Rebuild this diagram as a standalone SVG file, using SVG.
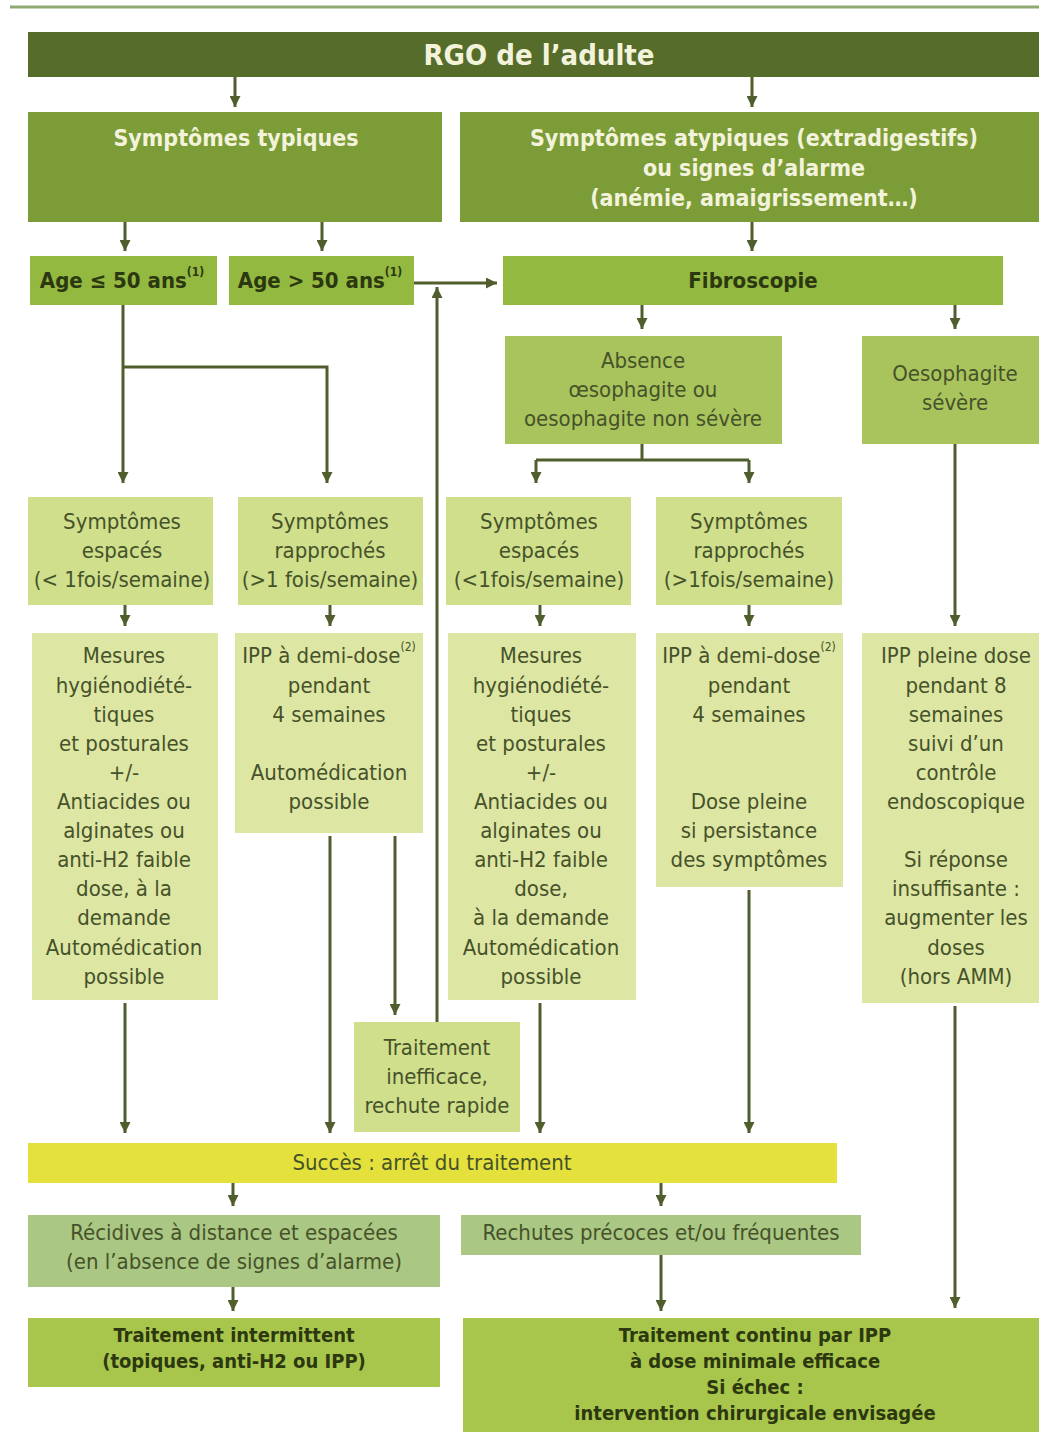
<svg xmlns="http://www.w3.org/2000/svg" width="1039" height="1432" viewBox="0 0 1039 1432">
<defs>
<marker id="ah" viewBox="0 0 10 10" refX="10" refY="5" markerWidth="11" markerHeight="11" markerUnits="userSpaceOnUse" orient="auto">
<path d="M0,0 L10,5 L0,10 Z" fill="#4f5e2c"/>
</marker>
<style>
text{font-family:"DejaVu Sans Condensed","DejaVu Sans","Liberation Sans",sans-serif;font-stretch:condensed;text-anchor:middle;dominant-baseline:central}
.t{font-size:22px;fill:#46522a}
.b{font-size:22px;font-weight:bold;fill:#2c3810}
.w{font-size:23px;font-weight:bold;fill:#f3f3dc}
.bt{font-size:20px;font-weight:bold;fill:#2c3810}
.sup{font-size:12px}
.c path{fill:none;stroke:#4f5e2c;stroke-width:3}
.c .a{marker-end:url(#ah)}
.dark{fill:#566c2a}
.mid{fill:#7c9c38}
.lt{fill:#93b941}
.lt2{fill:#a9c45c}
.p1{fill:#cfdf8c}
.p2{fill:#dde6a3}
.yel{fill:#e4e13d}
.gr{fill:#aac783}
.fin{fill:#a8c64b}
</style>
</defs>
<rect width="1039" height="1432" fill="#ffffff"/>
<line x1="10" y1="7" x2="1039" y2="7" stroke="#8eaa70" stroke-width="3"/>

<g id="title"><rect class="dark" x="28" y="32" width="1011" height="45"/><text class="w" style="font-size:29px" x="539" y="55">RGO de l’adulte</text></g>

<g id="typiques"><rect class="mid" x="28" y="112" width="414" height="110"/><text class="w" x="236" y="138">Symptômes typiques</text></g>
<g id="atypiques"><rect class="mid" x="460" y="112" width="579" height="110"/>
<text class="w" x="754" y="138">Symptômes atypiques (extradigestifs)</text>
<text class="w" x="754" y="168">ou signes d’alarme</text>
<text class="w" x="754" y="198">(anémie, amaigrissement…)</text></g>

<g id="age1"><rect class="lt" x="30" y="256" width="187" height="49"/><text class="b" x="122" y="280">Age ≤ 50 ans<tspan class="sup" dy="-8">(1)</tspan></text></g>
<g id="age2"><rect class="lt" x="229" y="256" width="185" height="49"/><text class="b" x="320" y="280">Age &gt; 50 ans<tspan class="sup" dy="-8">(1)</tspan></text></g>
<g id="fibro"><rect class="lt" x="503" y="256" width="500" height="49"/><text class="b" x="753" y="280">Fibroscopie</text></g>

<g id="absence"><rect class="lt2" x="505" y="336" width="277" height="108"/>
<text class="t" x="643" y="360">Absence</text><text class="t" x="643" y="389">œsophagite ou</text><text class="t" x="643" y="418">oesophagite non sévère</text></g>
<g id="severe"><rect class="lt2" x="862" y="336" width="177" height="108"/>
<text class="t" x="955" y="373">Oesophagite</text><text class="t" x="955" y="402">sévère</text></g>

<g id="s1"><rect class="p1" x="28" y="497" width="185" height="108"/>
<text class="t" x="122" y="521">Symptômes</text><text class="t" x="122" y="550">espacés</text><text class="t" x="122" y="579">(&lt; 1fois/semaine)</text></g>
<g id="s2"><rect class="p1" x="238" y="497" width="185" height="108"/>
<text class="t" x="330" y="521">Symptômes</text><text class="t" x="330" y="550">rapprochés</text><text class="t" x="330" y="579">(&gt;1 fois/semaine)</text></g>
<g id="s3"><rect class="p1" x="446" y="497" width="185" height="108"/>
<text class="t" x="539" y="521">Symptômes</text><text class="t" x="539" y="550">espacés</text><text class="t" x="539" y="579">(&lt;1fois/semaine)</text></g>
<g id="s4"><rect class="p1" x="656" y="497" width="186" height="108"/>
<text class="t" x="749" y="521">Symptômes</text><text class="t" x="749" y="550">rapprochés</text><text class="t" x="749" y="579">(&gt;1fois/semaine)</text></g>

<g id="m1"><rect class="p2" x="32" y="633" width="186" height="367"/>
<text class="t" x="124" y="655">Mesures</text><text class="t" x="124" y="685">hygiénodiété-</text><text class="t" x="124" y="714">tiques</text><text class="t" x="124" y="743">et posturales</text><text class="t" x="124" y="772">+/-</text><text class="t" x="124" y="801">Antiacides ou</text><text class="t" x="124" y="830">alginates ou</text><text class="t" x="124" y="859">anti-H2 faible</text><text class="t" x="124" y="888">dose, à la</text><text class="t" x="124" y="917">demande</text><text class="t" x="124" y="947">Automédication</text><text class="t" x="124" y="976">possible</text></g>
<g id="i1"><rect class="p2" x="235" y="633" width="188" height="200"/>
<text class="t" x="329" y="655">IPP à demi-dose<tspan class="sup" dy="-8">(2)</tspan></text><text class="t" x="329" y="685">pendant</text><text class="t" x="329" y="714">4 semaines</text><text class="t" x="329" y="772">Automédication</text><text class="t" x="329" y="801">possible</text></g>
<g id="m2"><rect class="p2" x="448" y="633" width="188" height="367"/>
<text class="t" x="541" y="655">Mesures</text><text class="t" x="541" y="685">hygiénodiété-</text><text class="t" x="541" y="714">tiques</text><text class="t" x="541" y="743">et posturales</text><text class="t" x="541" y="772">+/-</text><text class="t" x="541" y="801">Antiacides ou</text><text class="t" x="541" y="830">alginates ou</text><text class="t" x="541" y="859">anti-H2 faible</text><text class="t" x="541" y="888">dose,</text><text class="t" x="541" y="917">à la demande</text><text class="t" x="541" y="947">Automédication</text><text class="t" x="541" y="976">possible</text></g>
<g id="i2"><rect class="p2" x="656" y="633" width="187" height="254"/>
<text class="t" x="749" y="655">IPP à demi-dose<tspan class="sup" dy="-8">(2)</tspan></text><text class="t" x="749" y="685">pendant</text><text class="t" x="749" y="714">4 semaines</text><text class="t" x="749" y="801">Dose pleine</text><text class="t" x="749" y="830">si persistance</text><text class="t" x="749" y="859">des symptômes</text></g>
<g id="i3"><rect class="p2" x="862" y="633" width="177" height="370"/>
<text class="t" x="956" y="655">IPP pleine dose</text><text class="t" x="956" y="685">pendant 8</text><text class="t" x="956" y="714">semaines</text><text class="t" x="956" y="743">suivi d’un</text><text class="t" x="956" y="772">contrôle</text><text class="t" x="956" y="801">endoscopique</text><text class="t" x="956" y="859">Si réponse</text><text class="t" x="956" y="888">insuffisante :</text><text class="t" x="956" y="917">augmenter les</text><text class="t" x="956" y="947">doses</text><text class="t" x="956" y="976">(hors AMM)</text></g>

<g id="ineff"><rect class="p1" x="354" y="1022" width="166" height="110"/>
<text class="t" x="437" y="1047">Traitement</text><text class="t" x="437" y="1076">inefficace,</text><text class="t" x="437" y="1105">rechute rapide</text></g>

<g id="succes"><rect class="yel" x="28" y="1143" width="809" height="40"/><text class="t" x="432" y="1162">Succès : arrêt du traitement</text></g>

<g id="recid"><rect class="gr" x="28" y="1215" width="412" height="72"/>
<text class="t" x="234" y="1232">Récidives à distance et espacées</text><text class="t" x="234" y="1261">(en l’absence de signes d’alarme)</text></g>
<g id="rechutes"><rect class="gr" x="461" y="1215" width="400" height="40"/><text class="t" x="661" y="1232">Rechutes précoces et/ou fréquentes</text></g>

<g id="inter"><rect class="fin" x="28" y="1318" width="412" height="69"/>
<text class="bt" x="234" y="1335">Traitement intermittent</text><text class="bt" x="234" y="1361">(topiques, anti-H2 ou IPP)</text></g>
<g id="continu"><rect class="fin" x="463" y="1318" width="576" height="114"/>
<text class="bt" x="755" y="1335">Traitement continu par IPP</text><text class="bt" x="755" y="1361">à dose minimale efficace</text><text class="bt" x="755" y="1387">Si échec :</text><text class="bt" x="755" y="1413">intervention chirurgicale envisagée</text></g>

<g id="connectors" class="c">
<path class="a" d="M235,77 V107"/>
<path class="a" d="M752,77 V107"/>
<path class="a" d="M125,222 V251"/>
<path class="a" d="M322,222 V251"/>
<path class="a" d="M752,222 V251"/>
<path class="a" d="M414,283 H497"/>
<path class="a" d="M437,1022 V287"/>
<path class="a" d="M642,305 V329"/>
<path class="a" d="M955,305 V329"/>
<path class="a" d="M123,305 V483"/>
<path class="a" d="M123,367 H327 V483"/>
<path d="M642,444 V460 M536,460 H749"/>
<path class="a" d="M536,460 V483"/>
<path class="a" d="M749,460 V483"/>
<path class="a" d="M125,605 V626"/>
<path class="a" d="M330,605 V626"/>
<path class="a" d="M540,605 V626"/>
<path class="a" d="M749,605 V626"/>
<path class="a" d="M955,444 V626"/>
<path class="a" d="M125,1003 V1133"/>
<path class="a" d="M330,836 V1133"/>
<path class="a" d="M395,836 V1015"/>
<path class="a" d="M540,1003 V1133"/>
<path class="a" d="M749,890 V1133"/>
<path class="a" d="M955,1006 V1308"/>
<path class="a" d="M233,1183 V1206"/>
<path class="a" d="M661,1183 V1206"/>
<path class="a" d="M233,1287 V1311"/>
<path class="a" d="M661,1255 V1311"/>
</g>
</svg>
